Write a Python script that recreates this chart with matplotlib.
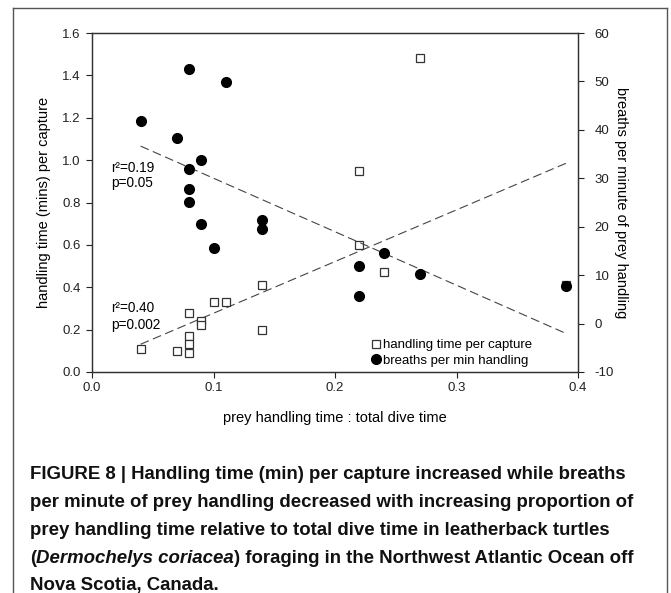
import matplotlib
matplotlib.use("Agg")
import matplotlib.pyplot as plt
from matplotlib.lines import Line2D
import numpy as np

plt.rcParams['font.family'] = ['Liberation Sans', 'DejaVu Sans']
plt.rcParams['axes.unicode_minus'] = False

# handling time per capture (left axis)
ht_x = [0.04, 0.07, 0.08, 0.08, 0.08, 0.08, 0.09, 0.09, 0.10, 0.11,
        0.14, 0.14, 0.22, 0.22, 0.24, 0.27, 0.39]
ht_y = [0.11, 0.10, 0.28, 0.17, 0.13, 0.09, 0.24, 0.22, 0.33, 0.33,
        0.41, 0.20, 0.60, 0.95, 0.47, 1.48, 0.41]

# breaths per minute of prey handling (right axis)
br_x = [0.04, 0.07, 0.08, 0.08, 0.08, 0.08, 0.09, 0.09, 0.10, 0.11,
        0.14, 0.14, 0.22, 0.22, 0.24, 0.27, 0.39]
br_y = [41.8, 38.4, 52.5, 32.0, 27.8, 25.2, 33.8, 20.6, 15.6, 49.8,
        21.4, 19.5, 11.9, 5.7, 14.5, 10.2, 7.8]

fit_x = [0.04, 0.39]
stats_ht = ["r\u00b2=0.40", "p=0.002"]
stats_br = ["r\u00b2=0.19", "p=0.05"]

W, H = 671, 593
fig = plt.figure(figsize=(W / 100, H / 100), dpi=100)
ax = fig.add_axes([92 / W, 1 - 372 / H, (578 - 92) / W, (372 - 33) / H])
ax2 = ax.twinx()

ax.plot(ht_x, ht_y, ls='none', marker='s', ms=5.5, mfc='white',
        mec='#333333', mew=0.9, label='handling time per capture', zorder=3)
ax2.plot(br_x, br_y, ls='none', marker='o', ms=7, mfc='black',
         mec='black', label='breaths per min handling', zorder=3)

# regression lines
k1 = np.polyfit(ht_x, ht_y, 1)
k2 = np.polyfit(br_x, br_y, 1)
fx = np.array(fit_x)
ax.plot(fx, np.polyval(k1, fx), color='#444444', lw=0.8, dashes=(8, 4))
ax2.plot(fx, np.polyval(k2, fx), color='#444444', lw=0.8, dashes=(8, 4))

ax.set_xlim(0, 0.4)
ax.set_ylim(0, 1.6)
ax2.set_ylim(-10, 60)
ax.set_xticks([0.0, 0.1, 0.2, 0.3, 0.4])
ax.set_yticks(np.arange(0, 1.61, 0.2))
ax2.set_yticks(range(-10, 61, 10))
ax.xaxis.set_major_formatter(matplotlib.ticker.FormatStrFormatter('%.1f'))
ax.yaxis.set_major_formatter(matplotlib.ticker.FormatStrFormatter('%.1f'))

for a in (ax, ax2):
    a.tick_params(direction='out', length=4, width=0.8, labelsize=9.5,
                  colors='#222222')
    for s in a.spines.values():
        s.set_linewidth(0.9)
        s.set_color('#333333')
ax.tick_params(axis='y', pad=4)
ax2.tick_params(axis='y', pad=8)

ax.set_xlabel('prey handling time : total dive time', fontsize=10.5, labelpad=12)
ax.set_ylabel('handling time (mins) per capture', fontsize=10.5, labelpad=8)
ax2.set_ylabel('breaths per minute of prey handling', fontsize=10.5,
               rotation=-90, labelpad=10)

ax.text(0.016, 0.965, stats_br[0], fontsize=9.8, va='center')
ax.text(0.016, 0.89, stats_br[1], fontsize=9.8, va='center')
ax.text(0.016, 0.30, stats_ht[0], fontsize=9.8, va='center')
ax.text(0.016, 0.222, stats_ht[1], fontsize=9.8, va='center')

h1, l1 = ax.get_legend_handles_labels()
h2, l2 = ax2.get_legend_handles_labels()
ax2.legend(h1 + h2, l1 + l2, loc='lower right', frameon=False,
           fontsize=9.5, handlelength=0.6, handletextpad=0.25,
           labelspacing=0.25, borderaxespad=0.3, bbox_to_anchor=(0.925, -0.012))

# outer frame
fx0, fx1, fy0 = 13 / W, 667 / W, 1 - 8 / H
for xs, ys in [([fx0, fx1], [fy0, fy0]), ([fx0, fx0], [fy0, 0]),
               ([fx1, fx1], [fy0, 0])]:
    fig.add_artist(Line2D(xs, ys, transform=fig.transFigure,
                          color='#555555', lw=1.0))

# caption
cap_lines = [
    "FIGURE 8 | Handling time (min) per capture increased while breaths",
    "per minute of prey handling decreased with increasing proportion of",
    "prey handling time relative to total dive time in leatherback turtles",
    None,
    "Nova Scotia, Canada.",
]
cap_font = 'Liberation Sans'

renderer = fig.canvas.get_renderer()
probe = fig.text(0, 0, cap_lines[0], fontsize=14, fontweight='bold',
                 family=cap_font)
wpx = probe.get_window_extent(renderer).width
probe.remove()
cap_size = 14 * 600 / wpx

x0 = 30 / W
base_px = [479, 507, 535, 563, 590]
for line, ypx in zip(cap_lines, base_px):
    y = 1 - ypx / H
    if line is not None:
        fig.text(x0, y, line, fontsize=cap_size, fontweight='bold',
                 family=cap_font, va='baseline', color='#111111')
    else:
        parts = [("(", 'normal'), ("Dermochelys coriacea", 'italic'),
                 (") foraging in the Northwest Atlantic Ocean off", 'normal')]
        xx = x0
        for txt, st in parts:
            t = fig.text(xx, y, txt, fontsize=cap_size, fontweight='bold',
                         style=st, family=cap_font, va='baseline',
                         color='#111111')
            xx += t.get_window_extent(renderer).width / W

fig.savefig('out.png', dpi=100)
